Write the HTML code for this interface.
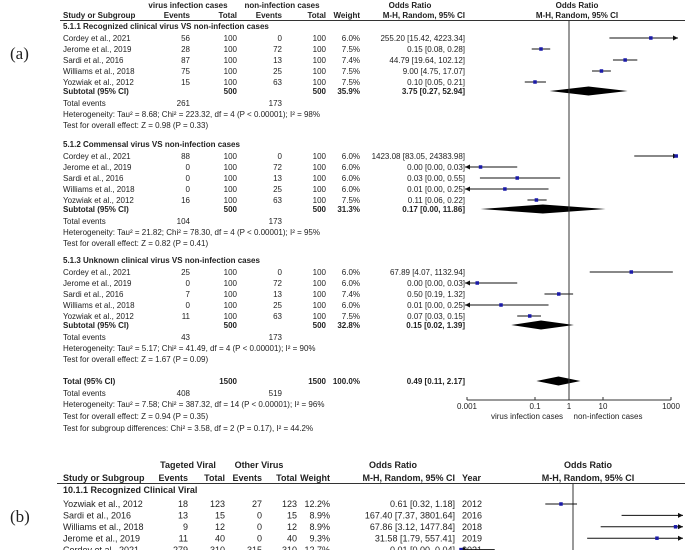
<!DOCTYPE html>
<html><head><meta charset="utf-8"><style>
html,body{margin:0;padding:0;background:#fff;}
svg{display:block;font-family:"Liberation Sans",Arial,sans-serif;}
text{fill:#222;}
.b{font-weight:bold;}
</style></head><body>
<svg id="chart" width="685" height="550" viewBox="0 0 685 550" xmlns="http://www.w3.org/2000/svg">
<text x="10" y="59" font-family="Liberation Serif,serif" font-size="17">(a)</text>
<text x="10" y="522" font-family="Liberation Serif,serif" font-size="17">(b)</text>
<g font-size="8">
<text x="188" y="8" text-anchor="middle" class="b">virus infection cases</text>
<text x="282" y="8" text-anchor="middle" class="b">non-infection cases</text>
<text x="410" y="8" text-anchor="middle" class="b">Odds Ratio</text>
<text x="577" y="8" text-anchor="middle" class="b">Odds Ratio</text>
<text x="63" y="18" class="b">Study or Subgroup</text>
<text x="190" y="18" text-anchor="end" class="b">Events</text>
<text x="237" y="18" text-anchor="end" class="b">Total</text>
<text x="282" y="18" text-anchor="end" class="b">Events</text>
<text x="326" y="18" text-anchor="end" class="b">Total</text>
<text x="360" y="18" text-anchor="end" class="b">Weight</text>
<text x="465" y="18" text-anchor="end" class="b">M-H, Random, 95% CI</text>
<text x="577" y="18" text-anchor="middle" class="b">M-H, Random, 95% CI</text>
</g>
<line x1="60" y1="20.5" x2="685" y2="20.5" stroke="#333" stroke-width="1"/>
<g id="ga"></g>
<g font-size="9">
<text x="188" y="468" text-anchor="middle" class="b">Tageted Viral</text>
<text x="259" y="468" text-anchor="middle" class="b">Other Virus</text>
<text x="393" y="468" text-anchor="middle" class="b">Odds Ratio</text>
<text x="588" y="468" text-anchor="middle" class="b">Odds Ratio</text>
<text x="63" y="481" class="b">Study or Subgroup</text>
<text x="188" y="481" text-anchor="end" class="b">Events</text>
<text x="225" y="481" text-anchor="end" class="b">Total</text>
<text x="262" y="481" text-anchor="end" class="b">Events</text>
<text x="297" y="481" text-anchor="end" class="b">Total</text>
<text x="330" y="481" text-anchor="end" class="b">Weight</text>
<text x="455" y="481" text-anchor="end" class="b">M-H, Random, 95% CI</text>
<text x="462" y="481" class="b">Year</text>
<text x="588" y="481" text-anchor="middle" class="b">M-H, Random, 95% CI</text>
<text x="63" y="493" class="b">10.1.1 Recognized Clinical Viral</text>
</g>
<line x1="57" y1="483.5" x2="685" y2="483.5" stroke="#333" stroke-width="1"/>
<g id="gb"></g>
</svg>
<script>
// ---------- Panel (a) data ----------
const secTitles = ["5.1.1 Recognized clinical virus VS non-infection cases","5.1.2 Commensal virus VS non-infection cases","5.1.3 Unknown clinical virus VS non-infection cases"];
const secTop = [26, 144, 260];
const studyNames = [
 ["Cordey et al., 2021","Jerome et al., 2019","Sardi et al., 2016","Williams et al., 2018","Yozwiak et al., 2012"],
 ["Cordey et al., 2021","Jerome et al., 2019","Sardi et al., 2016","Williams et al., 2018","Yozwiak et al., 2012"],
 ["Cordey et al., 2021","Jerome et al., 2019","Sardi et al., 2016","Williams et al., 2018","Yozwiak et al., 2012"]];
const events1 = [[56,28,87,75,15],[88,0,0,0,16],[25,0,7,0,11]];
const totals1 = [[100,100,100,100,100],[100,100,100,100,100],[100,100,100,100,100]];
const events2 = [[0,72,13,25,63],[0,72,13,25,63],[0,72,13,25,63]];
const totals2 = [[100,100,100,100,100],[100,100,100,100,100],[100,100,100,100,100]];
const weights = [["6.0%","7.5%","7.4%","7.5%","7.5%"],["6.0%","6.0%","6.0%","6.0%","7.5%"],["6.0%","6.0%","7.4%","6.0%","7.5%"]];
const orText = [
 ["255.20 [15.42, 4223.34]","0.15 [0.08, 0.28]","44.79 [19.64, 102.12]","9.00 [4.75, 17.07]","0.10 [0.05, 0.21]"],
 ["1423.08 [83.05, 24383.98]","0.00 [0.00, 0.03]","0.03 [0.00, 0.55]","0.01 [0.00, 0.25]","0.11 [0.06, 0.22]"],
 ["67.89 [4.07, 1132.94]","0.00 [0.00, 0.03]","0.50 [0.19, 1.32]","0.01 [0.00, 0.25]","0.07 [0.03, 0.15]"]];
const orVal = [[255.2,0.15,44.79,9.0,0.10],[1423.08,0.0025,0.03,0.013,0.11],[67.89,0.002,0.50,0.01,0.07]];
const ciLo = [[15.42,0.08,19.64,4.75,0.05],[83.05,0.0001,0.0024,0.0001,0.06],[4.07,0.0001,0.19,0.0001,0.03]];
const ciHi = [[4223.34,0.28,102.12,17.07,0.21],[24383.98,0.03,0.55,0.25,0.22],[1132.94,0.03,1.32,0.25,0.15]];
const subText = ["3.75 [0.27, 52.94]","0.17 [0.00, 11.86]","0.15 [0.02, 1.39]"];
const subWeight = ["35.9%","31.3%","32.8%"];
const subOr = [3.75,0.17,0.15];
const subLo = [0.27,0.0025,0.02];
const subHi = [52.94,11.86,1.39];
const totEv1 = [261,104,43];
const totEv2 = [173,173,173];
const hetText = ["Heterogeneity: Tau² = 8.68; Chi² = 223.32, df = 4 (P < 0.00001); I² = 98%",
 "Heterogeneity: Tau² = 21.82; Chi² = 78.30, df = 4 (P < 0.00001); I² = 95%",
 "Heterogeneity: Tau² = 5.17; Chi² = 41.49, df = 4 (P < 0.00001); I² = 90%"];
const testText = ["Test for overall effect: Z = 0.98 (P = 0.33)","Test for overall effect: Z = 0.82 (P = 0.41)","Test for overall effect: Z = 1.67 (P = 0.09)"];
const overallOr = [0.49, 0.11, 2.17];
const axisTicks = [0.001, 0.1, 1, 10, 1000];
const axisTickLabels = ["0.001","0.1","1","10","1000"];

// ---------- Panel (b) data ----------
const bNames = ["Yozwiak et al., 2012","Sardi et al., 2016","Williams et al., 2018","Jerome et al., 2019","Cordey et al., 2021"];
const bEv1 = [18,13,9,11,279];
const bTot1 = [123,15,12,40,310];
const bEv2 = [27,0,0,0,315];
const bTot2 = [123,15,12,40,310];
const bWeight = ["12.2%","8.9%","8.9%","9.3%","12.7%"];
const bOrText = ["0.61 [0.32, 1.18]","167.40 [7.37, 3801.64]","67.86 [3.12, 1477.84]","31.58 [1.79, 557.41]","0.01 [0.00, 0.04]"];
const bYear = ["2012","2016","2018","2019","2021"];
const bOr = [0.61,167.40,67.86,31.58,0.01];
const bLo = [0.32,7.37,3.12,1.79,0.001];
const bHi = [1.18,3801.64,1477.84,557.41,0.04];

const NS="http://www.w3.org/2000/svg";
function mk(tag, attrs, parent){const e=document.createElementNS(NS,tag);for(const k in attrs)e.setAttribute(k,attrs[k]);parent.appendChild(e);return e;}
function txt(parent,x,y,s,anchor,bold,size){const t=mk("text",{x:x,y:y,"font-size":size,"text-anchor":anchor||"start"},parent);if(bold)t.setAttribute("font-weight","bold");t.textContent=s;return t;}

const xA = v => 569 + Math.log10(v)*34;
const aMin = 465, aMax = 678;
const xB = v => 573 + Math.log10(v)*56;
const bMin = 460, bMax = 683;

function drawCI(g, xf, mn, mx, y, o, lo, hi, size){
  let x1=xf(lo), x2=xf(hi), left=false, right=false;
  if(x1<mn){x1=mn;left=true;} if(x2>mx){x2=mx;right=true;}
  const l=mk("line",{x1:x1,y1:y,x2:x2,y2:y,stroke:"#111","stroke-width":1},g);
  
  
  if(left){const p=mk("polygon",{points:`${x1},${y} ${x1+5},${y-2.5} ${x1+5},${y+2.5}`,fill:"#111"},g);
    
    }
  if(right){const p=mk("polygon",{points:`${x2},${y} ${x2-5},${y-2.5} ${x2-5},${y+2.5}`,fill:"#111"},g);
    
    }
  const ox=xf(o);
  if(ox>=mn && ox<=mx){const s=mk("rect",{x:ox-size/2,y:y-size/2,width:size,height:size,fill:"#1a1aa8"},g);
    
    }
}
function drawDiamond(g,xf,mn,mx,y,o,lo,hi){
  const x1=Math.max(xf(lo),mn), x2=Math.min(xf(hi),mx), xm=xf(o);
  const d=mk("polygon",{points:`${x1},${y} ${xm},${y-4.5} ${x2},${y} ${xm},${y+4.5}`,fill:"#000"},g);
  
  
}

const ga=document.getElementById("ga");
const FS=8;
for(let s=0;s<3;s++){
  const t=secTop[s];
  const sg=mk("g",{},ga);
  
  
  const tt=txt(sg,63,t+3,secTitles[s],"start",true,FS);
  
  
  for(let i=0;i<5;i++){
    const y=t+12+i*11, b=y+3;
    const r=mk("g",{},sg);
    
    
    txt(r,63,b,studyNames[s][i],"start",false,FS);
    txt(r,190,b,String(events1[s][i]),"end",false,FS);
    txt(r,237,b,String(totals1[s][i]),"end",false,FS);
    txt(r,282,b,String(events2[s][i]),"end",false,FS);
    txt(r,326,b,String(totals2[s][i]),"end",false,FS);
    txt(r,360,b,weights[s][i],"end",false,FS);
    txt(r,465,b,orText[s][i],"end",false,FS);
    drawCI(r,xA,aMin,aMax,y,orVal[s][i],ciLo[s][i],ciHi[s][i],3.5);
  }
  const ys=t+65;
  const sr=mk("g",{},sg);
  
  
  txt(sr,63,ys+3,"Subtotal (95% CI)","start",true,FS);
  txt(sr,237,ys+3,"500","end",true,FS);
  txt(sr,326,ys+3,"500","end",true,FS);
  txt(sr,360,ys+3,subWeight[s],"end",true,FS);
  txt(sr,465,ys+3,subText[s],"end",true,FS);
  drawDiamond(sr,xA,aMin,aMax,ys,subOr[s],subLo[s],subHi[s]);
  const te=txt(sg,63,t+80,"Total events","start",false,FS);
  
  
  txt(sg,190,t+80,String(totEv1[s]),"end",false,FS);
  txt(sg,282,t+80,String(totEv2[s]),"end",false,FS);
  const h=txt(sg,63,t+91,hetText[s],"start",false,FS);
  
  
  const ot=txt(sg,63,t+102,testText[s],"start",false,FS);
  
  
}
const tg=mk("g",{},ga);


txt(tg,63,384,"Total (95% CI)","start",true,FS);
txt(tg,237,384,"1500","end",true,FS);
txt(tg,326,384,"1500","end",true,FS);
txt(tg,360,384,"100.0%","end",true,FS);
txt(tg,465,384,"0.49 [0.11, 2.17]","end",true,FS);
drawDiamond(tg,xA,aMin,aMax,381,overallOr[0],overallOr[1],overallOr[2]);
txt(tg,63,396,"Total events","start",false,FS);
txt(tg,190,396,"408","end",false,FS);
txt(tg,282,396,"519","end",false,FS);
txt(tg,63,407,"Heterogeneity: Tau² = 7.58; Chi² = 387.32, df = 14 (P < 0.00001); I² = 96%","start",false,FS);
txt(tg,63,419,"Test for overall effect: Z = 0.94 (P = 0.35)","start",false,FS);
txt(tg,63,431,"Test for subgroup differences: Chi² = 3.58, df = 2 (P = 0.17), I² = 44.2%","start",false,FS);

const nl=mk("line",{x1:xA(1),y1:20,x2:xA(1),y2:400,stroke:"#333","stroke-width":1},ga);


const ax=mk("g",{},ga);


mk("line",{x1:xA(axisTicks[0]),y1:400,x2:xA(axisTicks[axisTicks.length-1]),y2:400,stroke:"#333","stroke-width":1},ax);
axisTicks.forEach((v,i)=>{
  const tk=mk("line",{x1:xA(v),y1:397,x2:xA(v),y2:400,stroke:"#333","stroke-width":1},ax);
  
  
  const tl=txt(ax,xA(v),409,axisTickLabels[i],"middle",false,8);
  
  
});
const al=txt(ax,527,419,"virus infection cases","middle",false,8);


const ar=txt(ax,608,419,"non-infection cases","middle",false,8);



const gb=document.getElementById("gb");
const nb=mk("line",{x1:xB(1),y1:483,x2:xB(1),y2:550,stroke:"#333","stroke-width":1},gb);


for(let i=0;i<bNames.length;i++){
  const y=504+i*11.4, b=y+3.2;
  const r=mk("g",{"font-size":9},gb);
  
  
  txt(r,63,b,bNames[i],"start",false,9);
  txt(r,188,b,String(bEv1[i]),"end",false,9);
  txt(r,225,b,String(bTot1[i]),"end",false,9);
  txt(r,262,b,String(bEv2[i]),"end",false,9);
  txt(r,297,b,String(bTot2[i]),"end",false,9);
  txt(r,330,b,bWeight[i],"end",false,9);
  txt(r,455,b,bOrText[i],"end",false,9);
  txt(r,462,b,bYear[i],"start",false,9);
  drawCI(r,xB,bMin,bMax,y,bOr[i],bLo[i],bHi[i],3.5);
}
</script>
</body></html>
